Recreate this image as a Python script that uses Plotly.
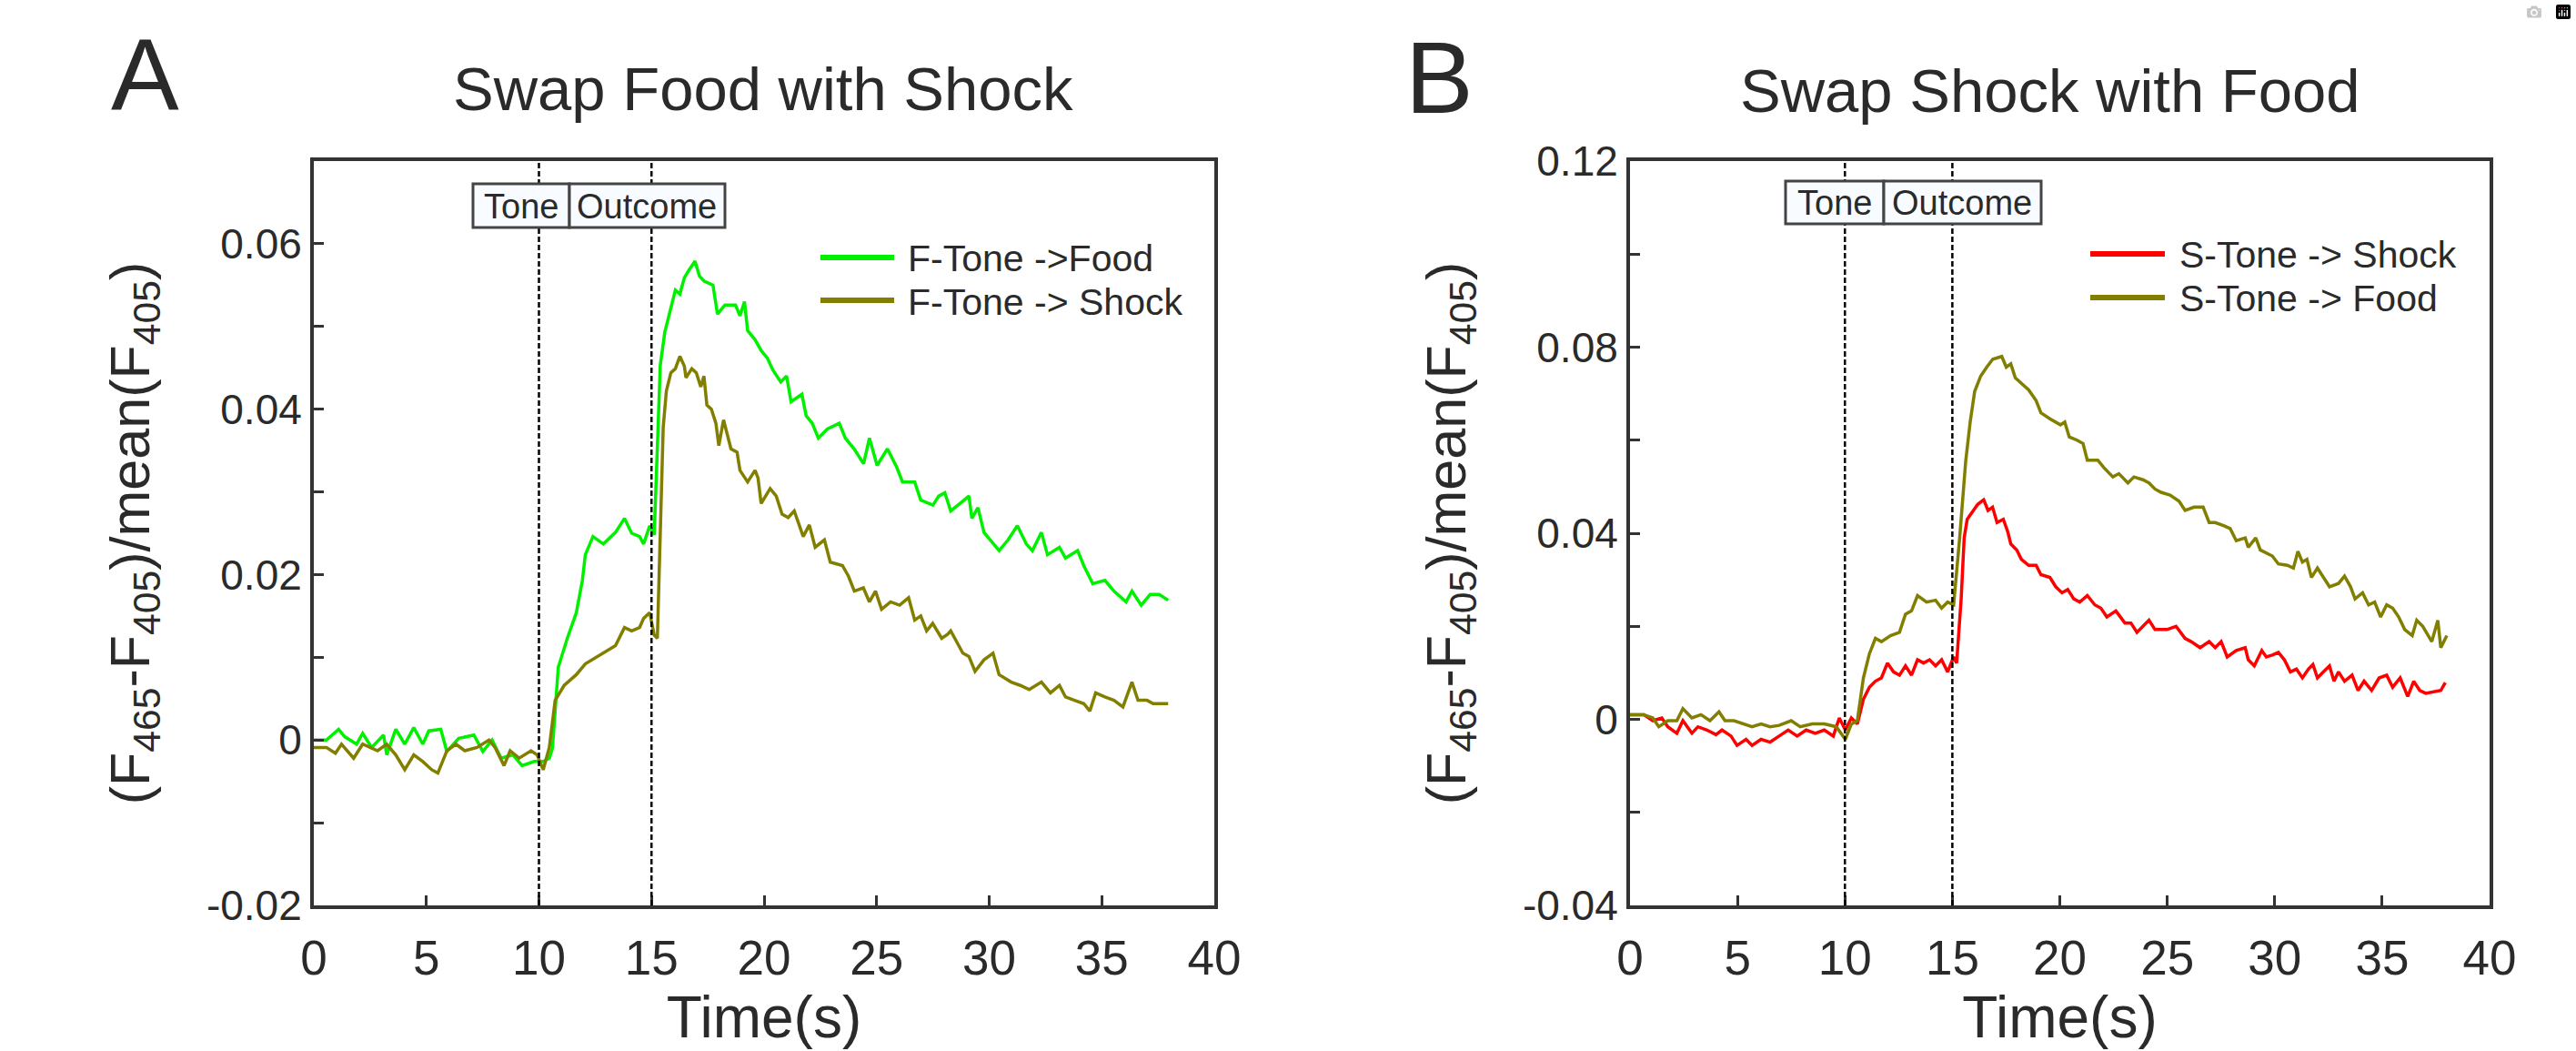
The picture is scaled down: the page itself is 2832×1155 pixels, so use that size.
import plotly.graph_objects as go

# ---------------- data ----------------
# Panel A: "Swap Food with Shock"  (time s, dF/F)
a_food = [(0.0, 0.0000), (0.56, 0.0000), (1.1, 0.0013), (1.37, 0.0004), (1.9, -0.0005), (2.17, 0.0008),
          (2.57, -0.0009), (3.1, 0.0006), (3.24, -0.0018), (3.64, 0.0013), (4.04, -0.0005), (4.44, 0.0015),
          (4.84, -0.0005), (5.11, 0.0011), (5.64, 0.0013), (5.91, -0.0014), (6.44, 0.0002), (7.11, 0.0006),
          (7.51, -0.0014), (7.92, 0.0000), (8.32, -0.0022), (8.85, -0.0018), (9.25, -0.0031), (9.79, -0.0026),
          (10.19, -0.0026), (10.46, -0.0022), (10.6, -0.0010), (10.72, 0.0040), (10.86, 0.0088), (11.26, 0.0123),
          (11.66, 0.0154), (11.93, 0.0193), (12.06, 0.0224), (12.4, 0.0246), (12.86, 0.0237), (13.4, 0.0251),
          (13.8, 0.0268), (14.12, 0.0250), (14.47, 0.0246), (14.65, 0.0237), (14.92, 0.0259), (15.12, 0.0248),
          (15.26, 0.0360), (15.39, 0.0453), (15.59, 0.0493), (15.86, 0.0524), (16.06, 0.0544), (16.26, 0.0539),
          (16.46, 0.0559), (16.66, 0.0568), (16.93, 0.0579), (17.13, 0.0561), (17.33, 0.0555), (17.73, 0.0550),
          (17.93, 0.0515), (18.26, 0.0526), (18.73, 0.0526), (18.93, 0.0513), (19.13, 0.0530), (19.27, 0.0495),
          (19.6, 0.0484), (19.87, 0.0471), (20.14, 0.0462), (20.4, 0.0447), (20.74, 0.0433), (21.0, 0.0440),
          (21.2, 0.0409), (21.68, 0.0418), (21.87, 0.0392), (22.14, 0.0383), (22.41, 0.0365), (22.81, 0.0376),
          (23.34, 0.0383), (23.61, 0.0365), (24.0, 0.0352), (24.42, 0.0334), (24.68, 0.0365), (25.02, 0.0332),
          (25.48, 0.0352), (25.89, 0.0330), (26.15, 0.0312), (26.69, 0.0312), (26.96, 0.0290), (27.5, 0.0284),
          (27.76, 0.0295), (28.03, 0.0299), (28.29, 0.0277), (28.7, 0.0286), (29.1, 0.0295), (29.23, 0.0268),
          (29.5, 0.0281), (29.77, 0.0251), (30.44, 0.0229), (30.84, 0.0242), (31.25, 0.0259), (31.65, 0.0237),
          (31.92, 0.0229), (32.32, 0.0251), (32.59, 0.0224), (33.12, 0.0233), (33.39, 0.0220), (33.93, 0.0229),
          (34.2, 0.0211), (34.6, 0.0189), (35.14, 0.0193), (35.54, 0.0180), (36.08, 0.0167), (36.34, 0.0180),
          (36.75, 0.0163), (37.15, 0.0176), (37.55, 0.0176), (37.95, 0.0169)]

a_shock = [(0.0, -0.0009), (0.56, -0.0009), (0.96, -0.0016), (1.23, -0.0005), (1.77, -0.0022), (2.17, -0.0005),
           (2.83, -0.0013), (3.24, -0.0005), (3.64, -0.0018), (4.04, -0.0036), (4.44, -0.0018), (4.84, -0.0026),
           (5.24, -0.0036), (5.51, -0.0040), (5.91, -0.0013), (6.31, -0.0005), (6.71, -0.0013), (7.25, -0.0009),
           (7.78, 0.0000), (8.05, -0.0009), (8.45, -0.0031), (8.72, -0.0013), (9.12, -0.0022), (9.65, -0.0013),
           (9.92, -0.0018), (10.19, -0.0036), (10.46, -0.0009), (10.72, 0.0048), (11.12, 0.0066), (11.66, 0.0079),
           (12.06, 0.0092), (12.6, 0.0101), (13.4, 0.0114), (13.8, 0.0136), (14.12, 0.0132), (14.47, 0.0136),
           (14.65, 0.0147), (14.92, 0.0154), (15.12, 0.0127), (15.26, 0.0123), (15.52, 0.0378), (15.66, 0.0422),
           (15.86, 0.0444), (16.06, 0.0449), (16.26, 0.0464), (16.46, 0.0452), (16.53, 0.0438), (16.79, 0.0449),
           (16.99, 0.0444), (17.19, 0.0427), (17.33, 0.0440), (17.46, 0.0405), (17.66, 0.0400), (17.86, 0.0383),
           (17.99, 0.0356), (18.2, 0.0387), (18.53, 0.0352), (18.8, 0.0348), (18.93, 0.0326), (19.27, 0.0312),
           (19.6, 0.0326), (19.73, 0.0317), (19.87, 0.0286), (20.27, 0.0304), (20.54, 0.0295), (20.8, 0.0273),
           (21.07, 0.0269), (21.34, 0.0277), (21.74, 0.0246), (22.01, 0.0260), (22.27, 0.0233), (22.68, 0.0242),
           (22.94, 0.0215), (23.48, 0.0211), (23.75, 0.0198), (24.01, 0.0180), (24.41, 0.0184), (24.68, 0.0167),
           (24.95, 0.0180), (25.22, 0.0158), (25.62, 0.0167), (26.02, 0.0163), (26.42, 0.0172), (26.69, 0.0145),
           (26.96, 0.0150), (27.22, 0.0132), (27.49, 0.0141), (27.89, 0.0123), (28.16, 0.0128), (28.29, 0.0132),
           (28.56, 0.0119), (28.83, 0.0105), (29.1, 0.0101), (29.37, 0.0083), (29.77, 0.0097), (30.17, 0.0105),
           (30.44, 0.0079), (30.98, 0.0070), (31.38, 0.0066), (31.78, 0.0061), (32.32, 0.0070), (32.72, 0.0057),
           (33.12, 0.0066), (33.39, 0.0052), (33.79, 0.0048), (34.2, 0.0044), (34.47, 0.0035), (34.73, 0.0057),
           (35.14, 0.0052), (35.54, 0.0048), (35.94, 0.0040), (36.34, 0.0070), (36.61, 0.0048), (37.01, 0.0048),
           (37.28, 0.0044), (37.68, 0.0044), (37.95, 0.0044)]

# Panel B: "Swap Shock with Food"
b_shock = [(0.0, 0.0010), (0.64, 0.0010), (1.06, -0.0003), (1.48, 0.0003), (1.76, -0.0016), (2.18, -0.0030),
           (2.46, -0.0003), (2.88, -0.0030), (3.16, -0.0016), (3.58, -0.0023), (4.0, -0.0033), (4.28, -0.0023),
           (4.7, -0.0036), (4.98, -0.0056), (5.4, -0.0043), (5.68, -0.0056), (6.1, -0.0043), (6.52, -0.0049),
           (6.94, -0.0036), (7.36, -0.0023), (7.78, -0.0036), (8.2, -0.0023), (8.62, -0.0030), (9.04, -0.0023),
           (9.46, -0.0036), (9.74, 0.0003), (10.02, -0.0023), (10.3, 0.0003), (10.58, -0.0010), (10.86, 0.0043),
           (11.14, 0.0069), (11.42, 0.0082), (11.7, 0.0089), (11.98, 0.0121), (12.26, 0.0102), (12.54, 0.0095),
           (12.82, 0.0115), (13.1, 0.0095), (13.38, 0.0128), (13.66, 0.0121), (13.94, 0.0128), (14.22, 0.0115),
           (14.5, 0.0128), (14.78, 0.0102), (15.06, 0.0134), (15.2, 0.0121), (15.41, 0.0259), (15.55, 0.0390),
           (15.69, 0.0430), (15.9, 0.0443), (16.18, 0.0462), (16.46, 0.0472), (16.66, 0.0449), (16.87, 0.0456),
           (17.08, 0.0423), (17.37, 0.0430), (17.58, 0.0403), (17.72, 0.0377), (18.0, 0.0364), (18.21, 0.0344),
           (18.55, 0.0331), (18.9, 0.0331), (19.12, 0.0311), (19.54, 0.0305), (19.81, 0.0285), (20.1, 0.0272),
           (20.37, 0.0279), (20.65, 0.0259), (20.93, 0.0252), (21.28, 0.0266), (21.63, 0.0246), (21.91, 0.0239),
           (22.19, 0.0220), (22.61, 0.0233), (23.03, 0.0207), (23.31, 0.0207), (23.59, 0.0187), (24.15, 0.0213),
           (24.43, 0.0193), (24.99, 0.0193), (25.41, 0.0200), (25.83, 0.0174), (26.11, 0.0167), (26.53, 0.0154),
           (26.95, 0.0167), (27.23, 0.0154), (27.51, 0.0167), (27.79, 0.0134), (28.21, 0.0148), (28.63, 0.0154),
           (28.77, 0.0128), (29.05, 0.0115), (29.4, 0.0148), (29.61, 0.0134), (29.89, 0.0138), (30.17, 0.0144),
           (30.45, 0.0128), (30.73, 0.0102), (31.01, 0.0108), (31.29, 0.0089), (31.57, 0.0108), (31.78, 0.0118),
           (31.99, 0.0089), (32.27, 0.0102), (32.55, 0.0115), (32.76, 0.0082), (32.97, 0.0102), (33.25, 0.0082),
           (33.6, 0.0095), (33.88, 0.0062), (34.16, 0.0082), (34.51, 0.0062), (34.86, 0.0089), (35.21, 0.0095),
           (35.49, 0.0069), (35.84, 0.0089), (36.19, 0.0049), (36.47, 0.0082), (36.75, 0.0062), (37.03, 0.0056),
           (37.45, 0.0059), (37.73, 0.0062), (37.94, 0.0079)]

b_food = [(0.0, 0.0010), (0.64, 0.0010), (1.06, 0.0003), (1.34, -0.0016), (1.76, -0.0003), (2.18, -0.0003),
          (2.46, 0.0023), (2.88, 0.0003), (3.3, 0.0010), (3.72, -0.0003), (4.14, 0.0016), (4.42, -0.0003),
          (4.84, -0.0003), (5.26, -0.0010), (5.68, -0.0016), (6.1, -0.0010), (6.52, -0.0016), (6.94, -0.0013),
          (7.5, -0.0003), (7.92, -0.0016), (8.48, -0.0010), (9.04, -0.0010), (9.6, -0.0016), (10.02, -0.0043),
          (10.3, -0.0010), (10.58, -0.0003), (10.86, 0.0089), (11.14, 0.0141), (11.42, 0.0174), (11.7, 0.0167),
          (12.12, 0.0180), (12.54, 0.0187), (12.82, 0.0226), (13.1, 0.0233), (13.38, 0.0266), (13.8, 0.0252),
          (14.22, 0.0256), (14.5, 0.0239), (14.78, 0.0252), (15.06, 0.0246), (15.34, 0.0390), (15.62, 0.0554),
          (15.83, 0.0639), (16.04, 0.0705), (16.32, 0.0738), (16.6, 0.0757), (16.88, 0.0774), (17.09, 0.0777),
          (17.3, 0.0780), (17.51, 0.0757), (17.72, 0.0764), (17.93, 0.0734), (18.28, 0.0718), (18.55, 0.0708),
          (18.9, 0.0685), (19.12, 0.0659), (19.54, 0.0646), (20.03, 0.0633), (20.23, 0.0639), (20.44, 0.0607),
          (20.8, 0.0600), (21.08, 0.0593), (21.28, 0.0557), (21.77, 0.0557), (22.05, 0.0541), (22.47, 0.0521),
          (22.75, 0.0528), (23.17, 0.0508), (23.45, 0.0521), (23.87, 0.0515), (24.15, 0.0508), (24.43, 0.0495),
          (24.71, 0.0488), (25.13, 0.0482), (25.55, 0.0469), (25.83, 0.0449), (26.25, 0.0456), (26.67, 0.0456),
          (26.95, 0.0423), (27.23, 0.0423), (27.65, 0.0416), (27.93, 0.0410), (28.21, 0.0384), (28.63, 0.0390),
          (28.77, 0.0370), (29.12, 0.0390), (29.33, 0.0364), (29.61, 0.0357), (29.89, 0.0351), (30.17, 0.0334),
          (30.59, 0.0331), (30.87, 0.0325), (31.08, 0.0361), (31.29, 0.0338), (31.5, 0.0344), (31.71, 0.0305),
          (31.99, 0.0325), (32.27, 0.0305), (32.55, 0.0285), (32.97, 0.0292), (33.25, 0.0308), (33.53, 0.0285),
          (33.74, 0.0259), (34.09, 0.0272), (34.37, 0.0246), (34.65, 0.0252), (34.93, 0.0220), (35.21, 0.0246),
          (35.49, 0.0239), (35.77, 0.0220), (36.05, 0.0193), (36.4, 0.0180), (36.61, 0.0213), (36.89, 0.0200),
          (37.31, 0.0167), (37.59, 0.0213), (37.73, 0.0154), (38.01, 0.0180)]

x_ticks = [0, 5, 10, 15, 20, 25, 30, 35, 40]
a_y_ticks = [-0.02, -0.01, 0.0, 0.01, 0.02, 0.03, 0.04, 0.05, 0.06, 0.07]
a_y_labels = ["-0.02", "", "0", "", "0.02", "", "0.04", "", "0.06", ""]
b_y_ticks = [-0.04, -0.02, 0.0, 0.02, 0.04, 0.06, 0.08, 0.10, 0.12]
b_y_labels = ["-0.04", "", "0", "", "0.04", "", "0.08", "", "0.12"]
b_right_ticks = [-0.0221, -0.0044, 0.0136, 0.0311, 0.0490, 0.0668, 0.0845, 0.1024]
event_times = [10, 15]

names_a = ["F-Tone ->Food", "F-Tone -> Shock"]
names_b = ["S-Tone -> Shock", "S-Tone -> Food"]

# ---------------- styling ----------------
FONT = "Liberation Sans, Arial, Helvetica, sans-serif"
TXT = "#2a2a2a"
AX = "#333333"
GREEN = "#00f000"
OLIVE = "#827f00"
RED = "#ff0000"
W, H = 2832, 1155


def px(x):
    return x / W


def py(y):
    return 1 - y / H


A_XDOM = [px(345), px(1335)]
B_XDOM = [px(1792), px(2737)]
Y_DOM = [py(995), py(177)]


def split(pairs):
    return [p[0] for p in pairs], [p[1] for p in pairs]


fig = go.Figure()
for pairs, name, col, xa, ya in [
    (a_food, names_a[0], GREEN, "x", "y"),
    (a_shock, names_a[1], OLIVE, "x", "y"),
    (b_shock, names_b[0], RED, "x2", "y2"),
    (b_food, names_b[1], OLIVE, "x2", "y2"),
]:
    t, v = split(pairs)
    fig.add_trace(go.Scatter(x=t, y=v, mode="lines", name=name, showlegend=False,
                             line=dict(color=col, width=3.5), xaxis=xa, yaxis=ya))


def xaxis(domain, anchor):
    return dict(domain=domain, anchor=anchor, range=[0, 40], tickmode="array", tickvals=x_ticks,
                ticktext=[str(v) for v in x_ticks], ticks="inside", ticklen=11, tickwidth=3, tickcolor=AX,
                showline=True, linecolor=AX, linewidth=4, mirror=True, showgrid=False, zeroline=False,
                tickfont=dict(family=FONT, size=53, color=TXT), ticklabelstandoff=8,
                title=dict(text="Time(s)", font=dict(family=FONT, size=64, color=TXT), standoff=8),
                automargin=False, fixedrange=True)


def yaxis(domain, anchor, rng, tv, tt):
    return dict(domain=domain, anchor=anchor, range=rng, tickmode="array", tickvals=tv, ticktext=tt,
                ticks="inside", ticklen=11, tickwidth=3, tickcolor=AX, showline=True, linecolor=AX,
                linewidth=4, mirror=True, showgrid=False, zeroline=False,
                tickfont=dict(family=FONT, size=46, color=TXT), ticklabelstandoff=0,
                title=dict(text="(F<sub>465</sub>-F<sub>405</sub>)/mean(F<sub>405</sub>)",
                           font=dict(family=FONT, size=61, color=TXT), standoff=44),
                automargin=False, fixedrange=True)


fig.update_layout(
    width=W, height=H, margin=dict(l=0, r=0, t=0, b=0),
    paper_bgcolor="white", plot_bgcolor="white", showlegend=False,
    font=dict(family=FONT, color=TXT),
    xaxis=xaxis(A_XDOM, "y"),
    yaxis=yaxis(Y_DOM, "x", [-0.02, 0.07], a_y_ticks, a_y_labels),
    xaxis2=xaxis(B_XDOM, "y2"),
    yaxis2=yaxis(Y_DOM, "x2", [-0.04, 0.12], b_y_ticks, b_y_labels),
    yaxis3=dict(overlaying="y2", anchor="x2", side="right", range=[-0.04, 0.12], tickmode="array",
                tickvals=b_right_ticks, ticks="inside", ticklen=11, tickwidth=3, tickcolor=AX,
                showticklabels=False, showline=False, showgrid=False, zeroline=False, fixedrange=True),
)

shapes = []
# event lines (tone onset, outcome onset)
for xa, ya in [("x", "y domain"), ("x2", "y2 domain")]:
    for t in event_times:
        shapes.append(dict(type="line", xref=xa, yref=ya, x0=t, x1=t, y0=0, y1=1,
                           line=dict(color="black", width=2.5, dash="6px,3px")))
# Tone / Outcome boxes
for l, m, r, top, bot in [(520, 626, 797, 202, 250), (1963, 2071, 2244, 199, 246)]:
    for a, b in [(l, m), (m, r)]:
        shapes.append(dict(type="rect", xref="paper", yref="paper", x0=px(a), x1=px(b), y0=py(bot), y1=py(top),
                           line=dict(color="#444444", width=3), fillcolor="#f8fbff"))
# legend swatches
for x0, x1, y, col in [(902, 983, 283, GREEN), (902, 983, 330, OLIVE), (2298, 2380, 279, RED), (2298, 2380, 327, OLIVE)]:
    shapes.append(dict(type="line", xref="paper", yref="paper", x0=px(x0), x1=px(x1), y0=py(y), y1=py(y),
                       line=dict(color=col, width=6)))
fig.update_layout(shapes=shapes)

ann = []


def text(x, y, s, size, xanchor="center", yanchor="middle"):
    ann.append(dict(x=px(x), y=py(y), xref="paper", yref="paper", text=s, showarrow=False,
                    xanchor=xanchor, yanchor=yanchor, font=dict(family=FONT, size=size, color=TXT)))


text(120, 82, "A", 112, xanchor="left")
text(1543, 85, "B", 112, xanchor="left")
text(839, 98, "Swap Food with Shock", 67)
text(2254, 100, "Swap Shock with Food", 67)
text(573, 227, "Tone", 38)
text(711, 227, "Outcome", 38)
text(2017, 223, "Tone", 38)
text(2157, 223, "Outcome", 38)
text(996, 284, names_a[0], 41, xanchor="left")
text(996, 332, names_a[1], 41, xanchor="left")
text(2394, 280, names_b[0], 41, xanchor="left")
text(2394, 328, names_b[1], 41, xanchor="left")
fig.update_layout(annotations=ann)

fig.write_html("out.html", include_plotlyjs=True,
               post_script="document.body.style.margin='0px';document.body.style.overflow='hidden';")
